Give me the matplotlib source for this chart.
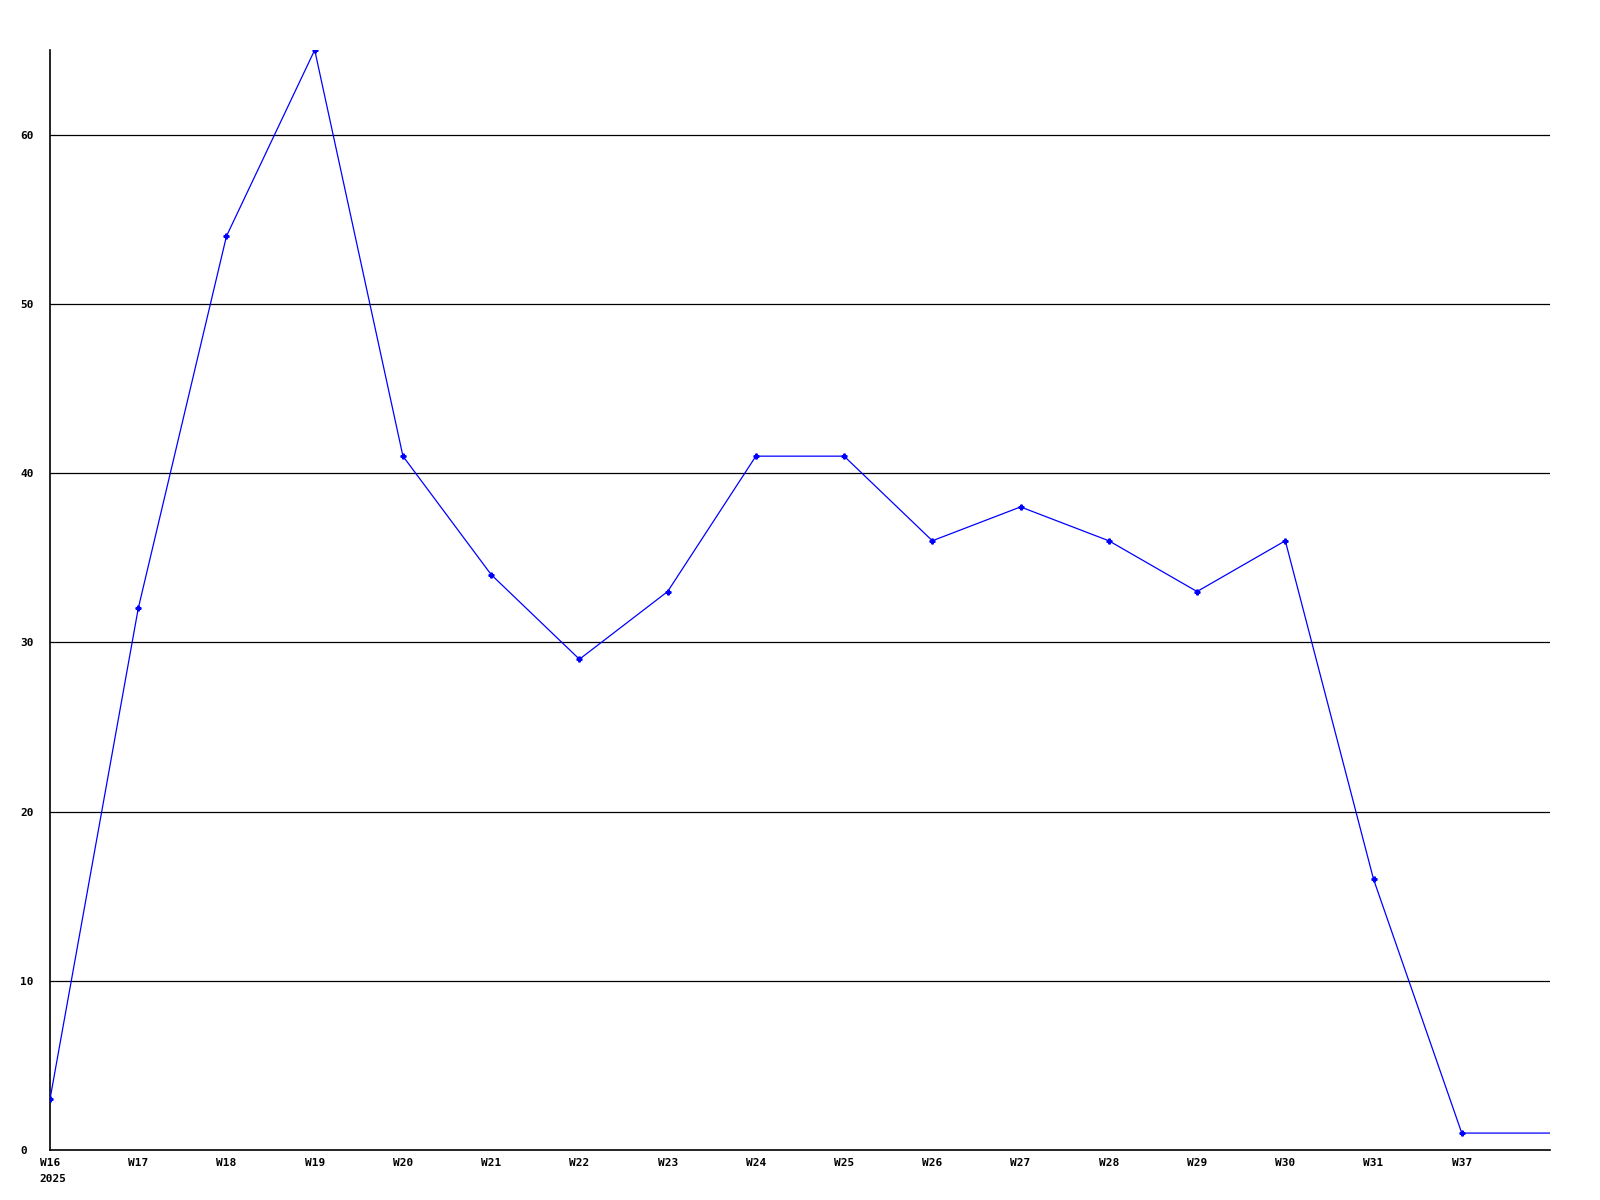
import matplotlib.pyplot as plt
import numpy as np

weeks = ['W16', 'W17', 'W18', 'W19', 'W20', 'W21', 'W22', 'W23', 'W24',
         'W25', 'W26', 'W27', 'W28', 'W29', 'W30', 'W31', 'W37']
counts = [3, 32, 54, 65, 41, 34, 29, 33, 41, 41, 36, 38, 36, 33, 36, 16, 1]
year_label = '2025'
y_ticks = [0, 10, 20, 30, 40, 50, 60]

fig = plt.figure(figsize=(16, 12), dpi=100)
ax = fig.add_axes([50 / 1600, 50 / 1200, 1500 / 1600, 1100 / 1200])

x = np.arange(len(weeks))
# last value carries on to the right edge of the plot
x_line = np.append(x, len(weeks))
y_line = counts + [counts[-1]]

for v in y_ticks[1:]:
    ax.axhline(v, color='black', linewidth=0.9, zorder=1)

ax.plot(x_line, y_line, color='#0000ff', linewidth=0.9, marker='P',
        markersize=3.5, markevery=list(range(len(weeks))), zorder=3)

ax.set_xlim(0, len(weeks))
ax.set_ylim(0, 65)
ax.set_xticks(x)
ax.set_xticklabels(weeks)
ax.set_yticks(y_ticks)
ax.tick_params(length=0)
ax.tick_params(axis='x', pad=6)
ax.tick_params(axis='y', pad=21.5)
for lab in ax.get_xticklabels() + ax.get_yticklabels():
    lab.set_fontfamily('DejaVu Sans Mono')
    lab.set_fontweight('bold')
    lab.set_fontsize(8)
for lab in ax.get_yticklabels():
    lab.set_horizontalalignment('left')

ax.annotate(year_label, xy=(0, 0), xycoords='data', xytext=(-7.5, -17),
            textcoords='offset points', ha='left', va='top',
            fontfamily='DejaVu Sans Mono', fontweight='bold', fontsize=8,
            annotation_clip=False)

for s in ['top', 'right']:
    ax.spines[s].set_visible(False)
for s in ['left', 'bottom']:
    ax.spines[s].set_linewidth(1.2)
    ax.spines[s].set_color('black')

fig.savefig('out.png', dpi=100)
